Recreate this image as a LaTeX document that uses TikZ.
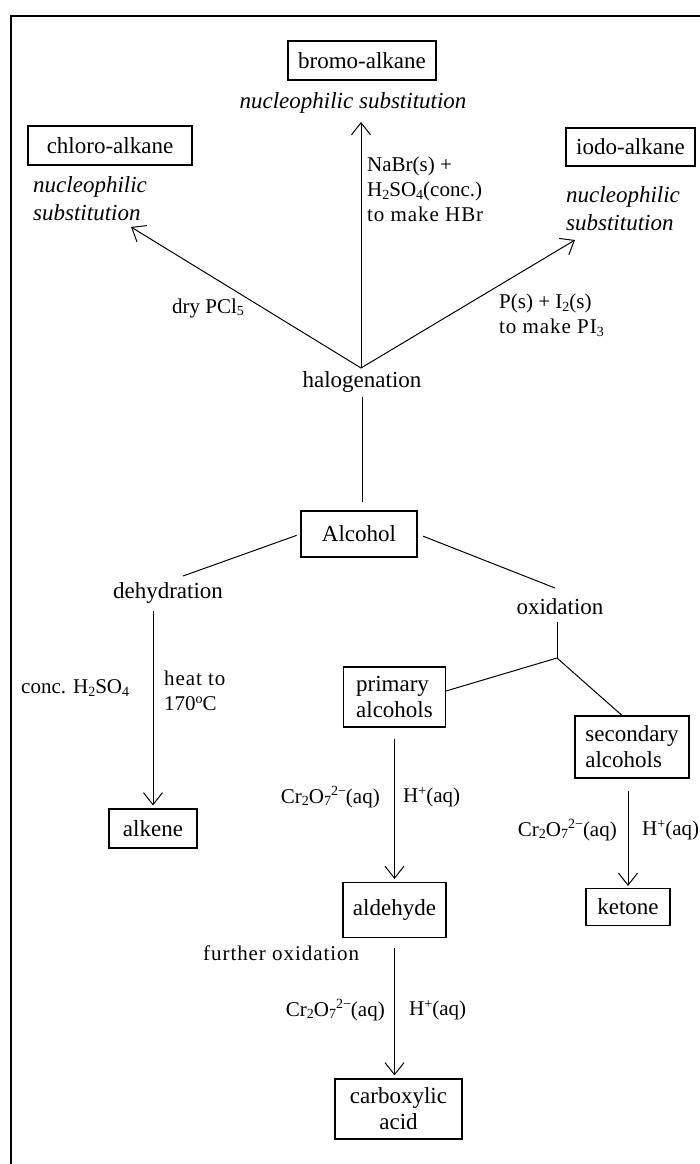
\documentclass[tikz,border=0pt]{standalone}
\usepackage{fontspec}
\setmainfont{Liberation Serif}
\newfontfamily\spc[LetterSpace=4.5]{Liberation Serif}
\usetikzlibrary{arrows.meta}
\newcommand{\sbs}[1]{\raisebox{-0.3ex}{\fontsize{14}{14}\selectfont #1}}
\newcommand{\sps}[1]{\raisebox{0.75ex}{\fontsize{14}{14}\selectfont #1}}
\begin{document}
\begin{tikzpicture}[x=1pt,y=-1pt,
  box/.style={draw, line width=1.1pt, inner sep=0pt, font=\fontsize{23}{26}\selectfont},
  lbl/.style={inner sep=0pt, font=\fontsize{23}{26}\selectfont},
  rg/.style={inner sep=0pt, font=\fontsize{21}{25}\selectfont},
  ital/.style={inner sep=0pt, font=\fontsize{23}{28}\selectfont\itshape},
  con/.style={line width=1pt},
  arr/.style={line width=1pt, -{Straight Barb[length=12pt,width=19pt,line width=1pt]}}
]
\useasboundingbox (0,0) rectangle (699,1164);
% frame
\draw[line width=2.5pt] (11,1170) -- (11,16) -- (705,16);

% top products
\node[box, minimum width=148, minimum height=39] (bro) at (362,60.5) {bromo-alkane};
\node[ital] (nsB) at (353,103) {nucleophilic substitution};
\node[box, minimum width=164, minimum height=39] (chl) at (110,145.5) {chloro-alkane};
\node[ital, align=left, anchor=west] (nsC) at (33,199) {nucleophilic\\substitution};
\node[box, minimum width=129, minimum height=38] (iod) at (630.5,147) {iodo-alkane};
\node[ital, align=left, anchor=west] (nsI) at (566,209) {nucleophilic\\substitution};

% halogenation
\node[lbl] (hal) at (362,382) {halogenation};
\coordinate (hub) at (361,368);
\coordinate (tCl) at (131,227);
\coordinate (tBr) at (361,122);
\coordinate (tI) at (575,240);
\draw[arr] (hub) -- (tCl);
\draw[arr] (hub) -- (tBr);
\draw[arr] (hub) -- (tI);
\node[rg, align=left, anchor=west] (nab) at (367,189) {NaBr(s) +\\H\sbs{2}SO\sbs{4}(conc.)\\{\spc to make HBr}};
\node[rg, anchor=west] (pcl) at (172,308) {dry PCl\sbs{5}};
\node[rg, align=left, anchor=west] (pi) at (499,315) {P(s) + I\sbs{2}(s)\\{\spc to make PI\sbs{3}}};

% alcohol
\node[box, minimum width=116, minimum height=46] (alc) at (359,534) {Alcohol};
\draw[con, shorten <=4pt, shorten >=8pt] (hal.south) -- (hal.south |- alc.north);

\node[lbl] (deh) at (168,593) {dehydration};
\node[lbl] (oxi) at (560,607) {oxidation};
\coordinate (dL) at (183,576);
\coordinate (oR) at (555,588);
\draw[con, shorten <=4pt] (alc.west) -- (dL);
\draw[con, shorten <=6pt] (alc.east) -- (oR);

% dehydration branch
\node[box, minimum width=88, minimum height=39] (alk) at (153,828.5) {alkene};
\draw[arr, shorten >=3pt] (alk.north |- deh.south) ++(0,7) -- (alk.north);
\node[rg, anchor=west] (cH) at (21,688) {conc. H\sbs{2}SO\sbs{4}};
\node[rg, align=left, anchor=west] (ht) at (164,691) {{\spc heat to}\\170\sps{o}C};

% oxidation branch
\coordinate (oxh) at (557,658);
\node[box, align=left, minimum width=102, minimum height=60] (prim) at (394.5,697) {primary\\alcohols};
\node[box, align=left, minimum width=114, minimum height=62] (sec) at (632,747) {secondary\\alcohols};
\draw[con] (oxh |- oxi.south) ++(0,7) -- (oxh);
\draw[con] ([yshift=6pt]prim.east) -- (oxh) -- ([xshift=-10pt]sec.north);

\node[box, minimum width=103, minimum height=55] (ald) at (394.5,910) {aldehyde};
\node[box, minimum width=84, minimum height=37] (ket) at (628,907) {ketone};
\node[box, align=center, minimum width=127, minimum height=60] (carb) at (398.5,1109) {carboxylic\\acid};

\draw[arr, shorten <=11pt, shorten >=3pt] (prim.south) -- (ald.north);
\draw[arr, shorten <=12pt, shorten >=2pt] (sec.south -| ket.north) -- (ket.north);
\draw[arr, shorten <=10pt, shorten >=3pt] (ald.south) -- (ald.south |- carb.north);

\node[rg, anchor=east] (cr1) at (380,797) {Cr\sbs{2}O\sbs{7}\sps{2−}(aq)};
\node[rg, anchor=west] (h1) at (403,797) {H\sps{+}(aq)};
\node[rg, anchor=east] (cr2) at (617,830) {Cr\sbs{2}O\sbs{7}\sps{2−}(aq)};
\node[rg, anchor=west] (h2) at (642,830) {H\sps{+}(aq)};
\node[rg, anchor=west] (fo) at (203,953) {\spc further oxidation};
\node[rg, anchor=east] (cr3) at (385,1010) {Cr\sbs{2}O\sbs{7}\sps{2−}(aq)};
\node[rg, anchor=west] (h3) at (409,1010) {H\sps{+}(aq)};
\end{tikzpicture}
\end{document}
